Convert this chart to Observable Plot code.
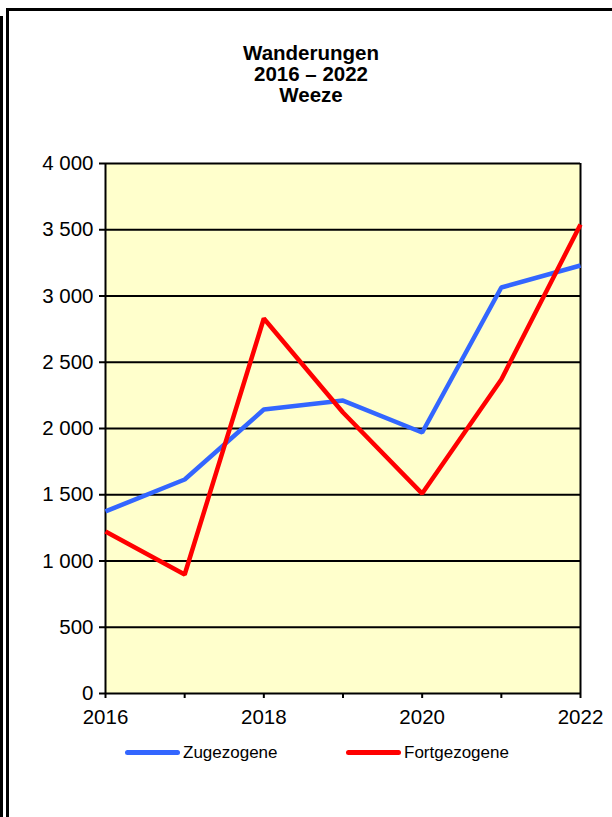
<!DOCTYPE html>
<html><head><meta charset="utf-8">
<script src="https://cdn.jsdelivr.net/npm/d3@7"></script>
<script src="https://cdn.jsdelivr.net/npm/@observablehq/plot@0.6"></script>
<style>
body{margin:0;background:#fff;font-family:"Liberation Sans",Arial,sans-serif;}
#wrap{position:relative;width:612px;height:817px;overflow:hidden;}
#outer{position:absolute;left:0;top:16px;width:3px;height:820px;background:#000;}
#frame{position:absolute;left:6px;top:8px;width:620px;height:830px;border-left:3px solid #000;border-top:3px solid #000;box-sizing:border-box;}
#title{position:absolute;left:0;width:622px;top:42px;text-align:center;font-weight:bold;font-size:20.5px;line-height:21px;color:#000;}
#chart{position:absolute;left:0;top:130px;}
.leg{position:absolute;top:743px;font-size:17px;line-height:20px;color:#000;}
.leg span{display:inline-block;width:55px;height:5px;border-radius:2.5px;vertical-align:middle;margin-right:3px;position:relative;top:-1px;}
</style></head><body>
<div id="wrap">
<div id="outer"></div><div id="frame"></div>
<div id="title">Wanderungen<br>2016 – 2022<br>Weeze</div>
<div id="chart"></div>
<div class="leg" style="left:125px"><span style="background:#3366ff"></span>Zugezogene</div>
<div class="leg" style="left:346px"><span style="background:#ff0000"></span>Fortgezogene</div>
</div>
<script>
const years = [2016, 2017, 2018, 2019, 2020, 2021, 2022];
const zugezogene = [1374, 1615, 2143, 2211, 1970, 3064, 3230];
const fortgezogene = [1223, 898, 2830, 2121, 1509, 2370, 3540];
const yTicks = [0, 500, 1000, 1500, 2000, 2500, 3000, 3500, 4000];
const xLabels = [2016, 2018, 2020, 2022];

const data = [];
years.forEach((y, i) => {
  data.push({year: y, value: zugezogene[i], series: "Zugezogene"});
  data.push({year: y, value: fortgezogene[i], series: "Fortgezogene"});
});
const fmt = v => d3.format(",")(v).replace(/,/g, " ");

const chart = Plot.plot({
  width: 612, height: 600,
  marginTop: 33, marginBottom: 37, marginLeft: 105, marginRight: 32,
  style: {fontFamily: "Liberation Sans, Arial, sans-serif", fontSize: "20px", color: "#000", background: "transparent"},
  x: {domain: [2016, 2022], label: null},
  y: {domain: [0, 4000], label: null},
  color: {domain: ["Zugezogene", "Fortgezogene"], range: ["#3366ff", "#ff0000"]},
  marks: [
    Plot.frame({fill: "#ffffcc", stroke: null}),
    Plot.ruleY(yTicks, {stroke: "#000", strokeWidth: 2}),
    Plot.ruleX([2016, 2022], {stroke: "#000", strokeWidth: 2}),
    Plot.axisY({ticks: yTicks, tickSize: 6, tickFormat: fmt, stroke: "#000", strokeWidth: 2, tickPadding: 6, fontSize: 20.5}),
    Plot.axisX({ticks: years, tickSize: 5, tickFormat: () => "", stroke: "#000", strokeWidth: 2}),
    Plot.axisX({ticks: xLabels, tickSize: 0, tickFormat: d => String(d), tickPadding: 16, fontSize: 20.5}),
    Plot.line(data, {x: "year", y: "value", z: "series", stroke: "series", strokeWidth: 4.5, strokeLinejoin: "miter", strokeLinecap: "butt"})
  ]
});
document.getElementById("chart").appendChild(chart);
</script>
</body></html>
